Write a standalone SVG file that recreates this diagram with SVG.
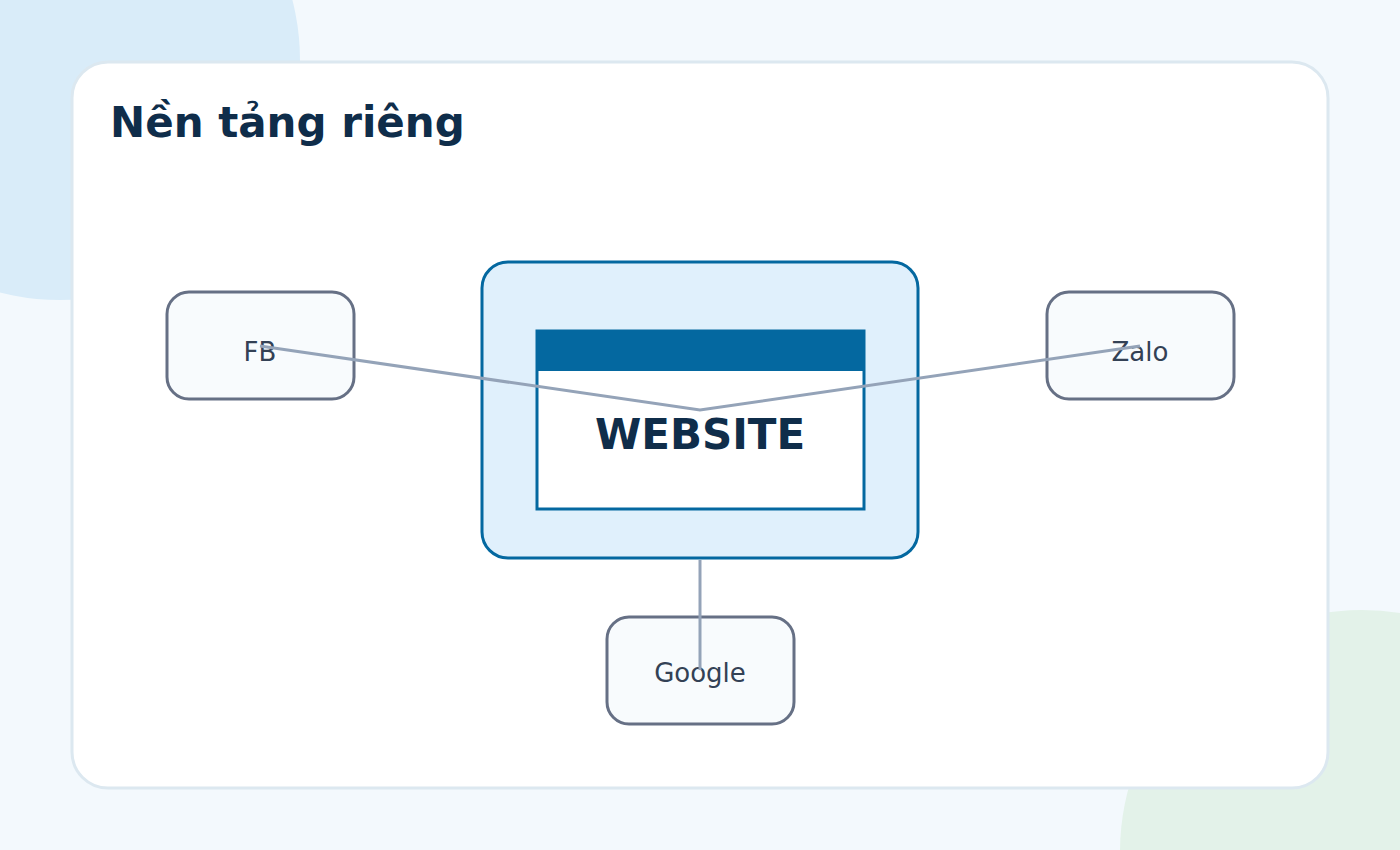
<svg xmlns="http://www.w3.org/2000/svg" width="1400" height="850" viewBox="0 0 1400 850">
<style>
.n{fill:#f8fbfd;stroke:#667085;stroke-width:3}
.lb{font-family:"DejaVu Sans",sans-serif;font-size:26px;fill:#334155;text-anchor:middle}
.c{stroke:#94a3b8;stroke-width:3;fill:none}
</style>
<rect width="1400" height="850" fill="#f3f9fd"/>
<circle cx="60" cy="60" r="240" fill="#d9ecf9"/>
<circle cx="1362" cy="852" r="242" fill="#e3f2e9"/>
<rect x="72" y="62" width="1256" height="726" rx="36" fill="#fff" stroke="#dce8f0" stroke-width="3"/>
<text x="110" y="137" font-family="DejaVu Sans,sans-serif" font-weight="bold" font-size="42" fill="#0f2d4a">Nền tảng riêng</text>
<g id="website">
<rect x="482" y="262" width="436" height="296" rx="26" fill="#e0f0fc" stroke="#0468a0" stroke-width="3"/>
<rect x="537" y="331" width="327" height="178" fill="#fff" stroke="#0468a0" stroke-width="3"/>
<rect x="537" y="331" width="327" height="40" fill="#0468a0"/>
<text x="700" y="449" text-anchor="middle" font-family="DejaVu Sans,sans-serif" font-weight="bold" font-size="42" fill="#0f2d4a">WEBSITE</text>
</g>
<g id="fb"><rect class="n" x="167" y="292" width="187" height="107" rx="22"/><text class="lb" x="260" y="361">FB</text></g>
<g id="zalo"><rect class="n" x="1047" y="292" width="187" height="107" rx="22"/><text class="lb" x="1140" y="361">Zalo</text></g>
<g id="google"><rect class="n" x="607" y="617" width="187" height="107" rx="22"/><text class="lb" x="700" y="682">Google</text></g>
<g id="connectors">
<polyline class="c" points="260,346 700,410 1140,346"/>
<line class="c" x1="700" y1="560" x2="700" y2="670"/>
</g>
</svg>
